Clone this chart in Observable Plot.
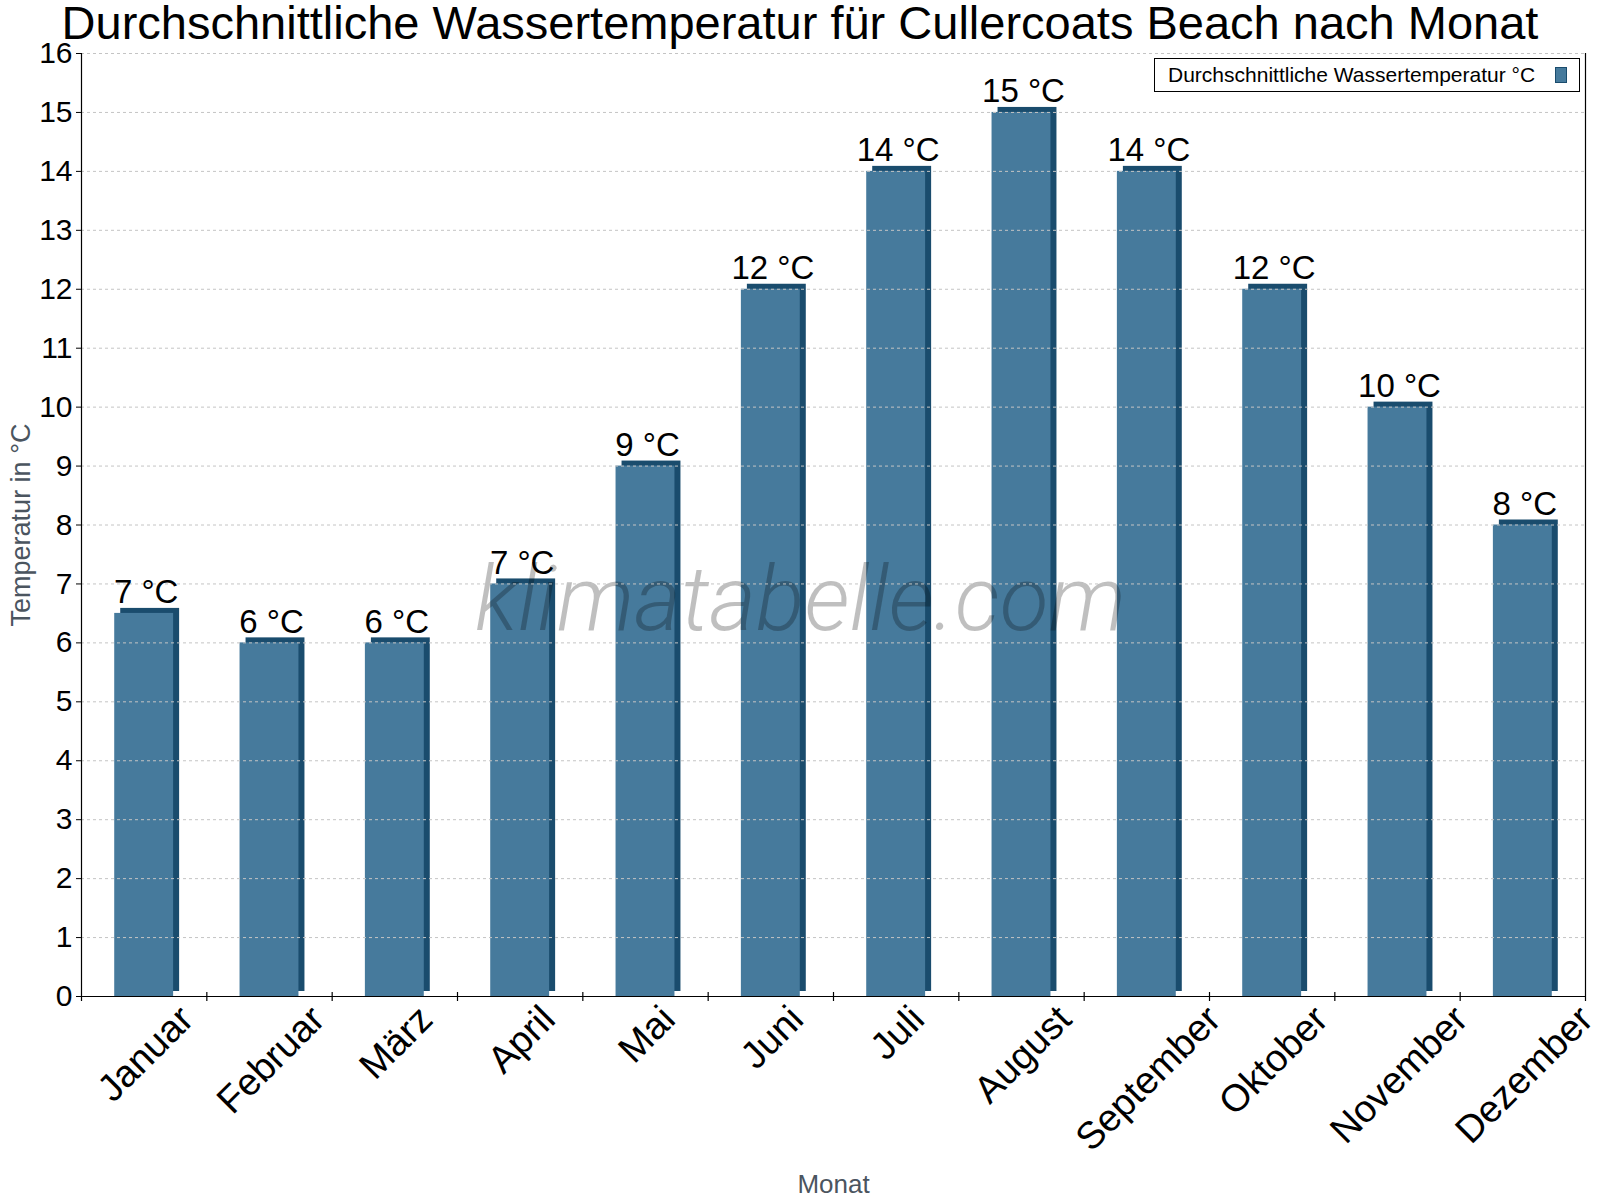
<!DOCTYPE html>
<html><head><meta charset="utf-8">
<script src="https://cdn.jsdelivr.net/npm/d3@7"></script>
<script src="https://cdn.jsdelivr.net/npm/@observablehq/plot@0.6"></script>
<style>
html,body{margin:0;padding:0;background:#fff;}
#wrap{position:relative;width:1600px;height:1200px;font-family:"Liberation Sans",Arial,sans-serif;overflow:hidden;}
#title{position:absolute;left:0;top:0;width:1600px;text-align:center;font-size:47px;line-height:45px;color:#000;white-space:nowrap;z-index:2;}
#chart{position:absolute;left:0;top:0;}
#legend{position:absolute;left:1154px;top:58px;width:426px;height:34px;box-sizing:border-box;border:1px solid #000;background:#fff;z-index:2;}
#legend .lt{position:absolute;left:13px;top:0;font-size:21px;line-height:32px;color:#000;white-space:nowrap;}
#legend .sw{position:absolute;left:400px;top:8px;width:12px;height:16px;box-sizing:border-box;background:#467a9c;border:1px solid #1a4c6d;}
</style></head>
<body>
<div id="wrap">
  <div id="chart"></div>
  <div id="title">Durchschnittliche Wassertemperatur für Cullercoats Beach nach Monat</div>
  <div id="legend"><span class="lt">Durchschnittliche Wassertemperatur °C</span><span class="sw"></span></div>
</div>
<script>
const months = ["Januar","Februar","März","April","Mai","Juni","Juli","August","September","Oktober","November","Dezember"];
const temps = [6.5, 6, 6, 7, 9, 12, 14, 15, 14, 12, 10, 8];
const tempLabels = ["7 °C","6 °C","6 °C","7 °C","9 °C","12 °C","14 °C","15 °C","14 °C","12 °C","10 °C","8 °C"];
const yTicks = [0,1,2,3,4,5,6,7,8,9,10,11,12,13,14,15,16];
const gridTicks = yTicks.filter(t => t > 0);
const yLabel = "Temperatur in °C";
const xLabel = "Monat";
const watermark = "klimatabelle.com";

const FRONT = "#467a9c", SIDE = "#1a4c6d";
const W = 1600, H = 1200, ML = 81, MR = 15, MT = 53, MB = 204;

const data = months.map((m, i) => ({month: m, temp: temps[i], label: tempLabels[i]}));
const xBase = {type: "band", domain: months, paddingInner: 0.53, paddingOuter: 0.265, round: false};
const sx = Plot.scale({x: {...xBase, range: [ML, W - MR]}});
const step = sx.apply(months[1]) - sx.apply(months[0]);
const bandwidth = typeof sx.bandwidth === "number" ? sx.bandwidth : step * (1 - xBase.paddingInner);

const chart = Plot.plot({
  width: W, height: H,
  marginLeft: ML, marginRight: MR, marginTop: MT, marginBottom: MB,
  style: {fontFamily: "'Liberation Sans', Arial, sans-serif", background: "white", color: "black", overflow: "visible"},
  x: {...xBase, axis: null},
  y: {domain: [0, 16]},
  marks: [
    Plot.barY(data, {x: "month", y: "temp", fill: SIDE, dx: 6, dy: -5}),
    Plot.barY(data, {x: "month", y: "temp", fill: FRONT}),
    Plot.text([watermark], {frameAnchor: "middle", dx: -33, dy: 76, text: d => d, fontSize: 90, fontFamily: "'Roboto Light', Roboto, 'Lato Light', sans-serif", fontWeight: 300, fontStyle: "italic", fill: "black", fillOpacity: 0.25}),
    Plot.gridY(gridTicks, {stroke: "#c4c4c4", strokeOpacity: 1, strokeDasharray: "3,3"}),
    Plot.ruleY([0], {stroke: "black", strokeWidth: 1.2}),
    Plot.ruleX([months[0]], {x: d => d, dx: -step / 2, stroke: "black", strokeWidth: 1.2}),
    Plot.ruleX([months[months.length - 1]], {x: d => d, dx: step / 2, stroke: "black", strokeWidth: 1.2}),
    Plot.ruleX(months.slice(1), {x: d => d, dx: -step / 2, y1: () => 0, y2: () => 0, insetTop: -4, insetBottom: -5, stroke: "black", strokeWidth: 1.2}),
    Plot.ruleX([months[0]], {x: d => d, dx: -step / 2, y1: () => 0, y2: () => 0, insetTop: 0, insetBottom: -5, stroke: "black", strokeWidth: 1.2}),
    Plot.ruleX([months[months.length - 1]], {x: d => d, dx: step / 2, y1: () => 0, y2: () => 0, insetTop: 0, insetBottom: -5, stroke: "black", strokeWidth: 1.2}),
    Plot.axisY({ticks: yTicks, tickSize: 5, tickPadding: 4, fontSize: 30, label: null, tickFormat: d => String(d)}),
    Plot.text(data, {x: "month", y: "temp", text: "label", dx: 2, dy: -10, lineAnchor: "bottom", fontSize: 33, fill: "black"}),
    Plot.text(months, {x: d => d, text: d => d, frameAnchor: "bottom", rotate: -45, textAnchor: "end", lineAnchor: "middle", fontSize: 38, fill: "black"}),
    Plot.text([yLabel], {frameAnchor: "left", text: d => d, rotate: -90, dx: -60, textAnchor: "middle", fontSize: 27, fill: "#4b555f", lineAnchor: "middle"}),
    Plot.text([xLabel], {frameAnchor: "bottom", text: d => d, dy: 188, textAnchor: "middle", fontSize: 26, fill: "#4b555f", lineAnchor: "middle"})
  ]
});
document.getElementById("chart").append(chart);

// centre each rotated month label's bounding box under its band
const monthSet = new Set(months);
chart.querySelectorAll("text").forEach(t => {
  const name = t.textContent;
  if (!monthSet.has(name)) return;
  const L = t.getComputedTextLength();
  const parent = t.parentNode;
  let ox = 0, oy = 0;
  try {
    const pm = parent.getScreenCTM(), sm = chart.getScreenCTM();
    ox = pm.e - sm.e; oy = pm.f - sm.f;
  } catch (e) {}
  const cx = sx.apply(name) + bandwidth / 2;
  const X = cx + 2 + L * Math.SQRT1_2 / 2 - ox;
  const Y = (H - MB) + 17 - oy;
  t.removeAttribute("x");
  t.setAttribute("y", "0.32em");
  t.setAttribute("text-anchor", "end");
  t.setAttribute("transform", `translate(${X},${Y}) rotate(-45)`);
});
</script>
</body></html>
